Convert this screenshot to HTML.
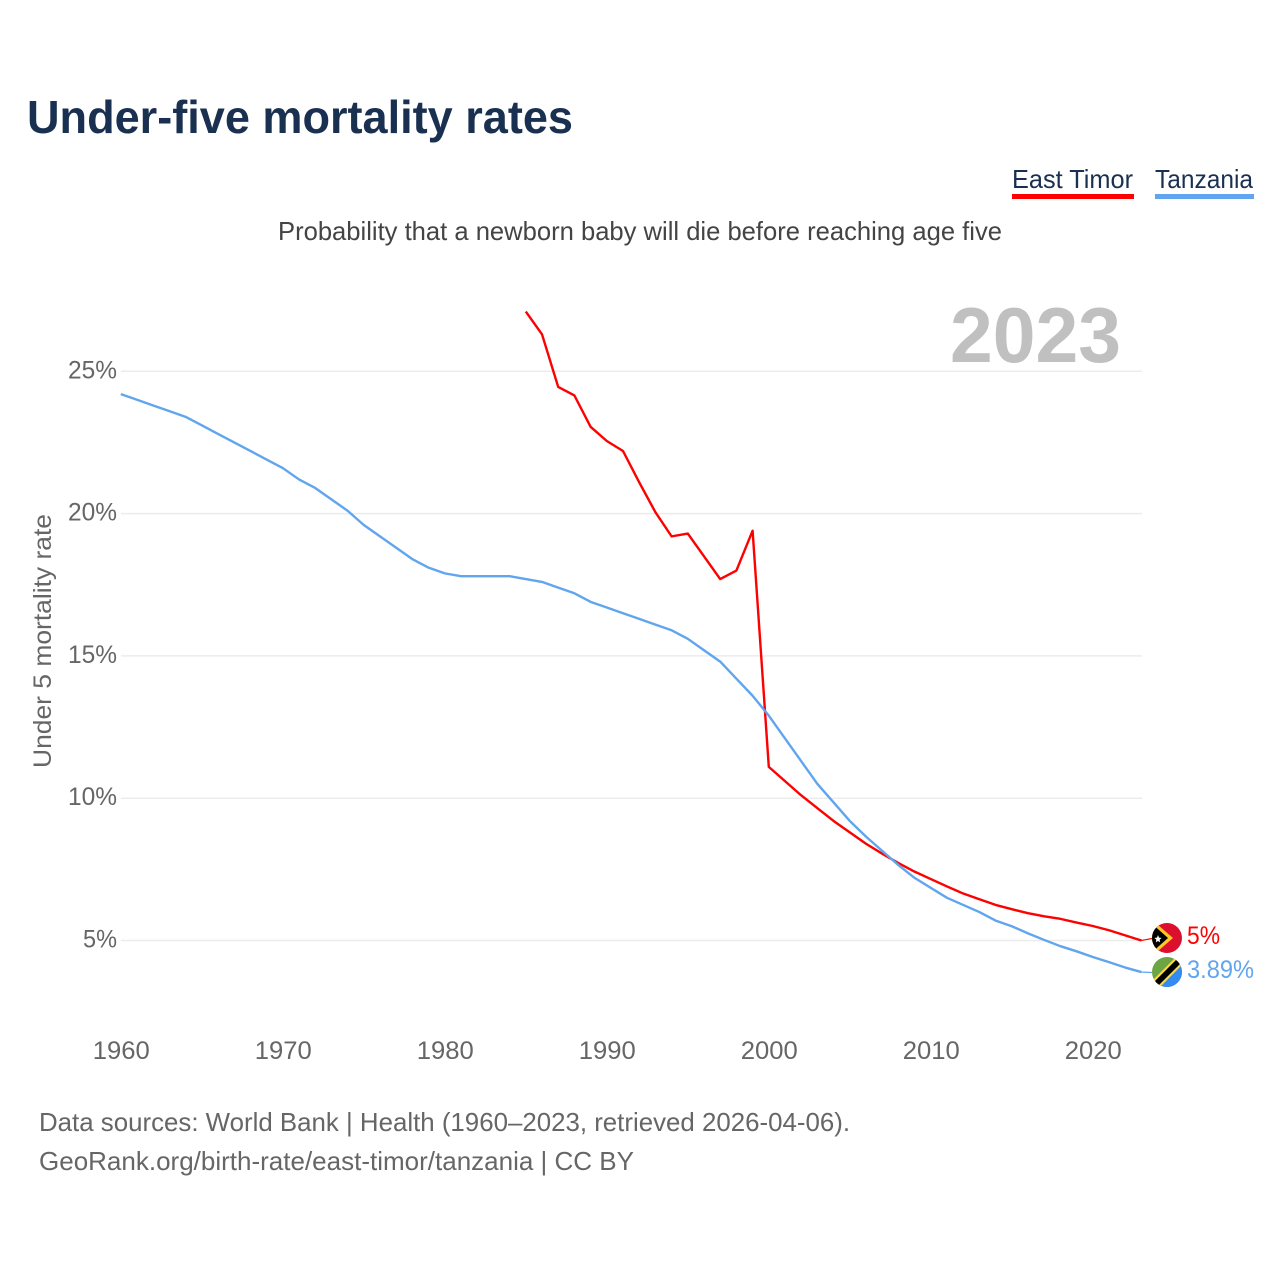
<!DOCTYPE html>
<html lang="en">
<head>
<meta charset="utf-8">
<title>Under-five mortality rates</title>
<style>
html,body{margin:0;padding:0;background:#fff;}
svg{display:block;font-family:"Liberation Sans",sans-serif;}
</style>
</head>
<body>
<svg id="chart" width="1280" height="1280" viewBox="0 0 1280 1280" xmlns="http://www.w3.org/2000/svg">
  <defs>
    <clipPath id="clip-tl"><circle cx="1167" cy="938" r="15"/></clipPath>
    <clipPath id="clip-tz"><circle cx="1167" cy="972" r="15"/></clipPath>
  </defs>
  <rect width="1280" height="1280" fill="#fff"/>
  <text x="27" y="133" font-size="46" font-weight="700" fill="#1a3050" textLength="546" lengthAdjust="spacingAndGlyphs">Under-five mortality rates</text>
  <g>
    <g>
      <text x="1012" y="188" font-size="26" fill="#1a3050" textLength="121" lengthAdjust="spacingAndGlyphs">East Timor</text>
      <rect x="1012" y="194" width="122" height="5" fill="#ff0000"/>
    </g>
    <g>
      <text x="1155" y="188" font-size="26" fill="#1a3050" textLength="98" lengthAdjust="spacingAndGlyphs">Tanzania</text>
      <rect x="1155" y="194" width="99" height="5" fill="#60a5ee"/>
    </g>
  </g>
  <text x="278" y="240" font-size="26" fill="#444" textLength="724" lengthAdjust="spacingAndGlyphs">Probability that a newborn baby will die before reaching age five</text>
  <text x="950" y="362" font-size="78" font-weight="700" fill="#c0c0c0" textLength="171" lengthAdjust="spacingAndGlyphs">2023</text>
  <text transform="translate(51,768) rotate(-90)" x="0" y="0" font-size="25" fill="#666" textLength="254" lengthAdjust="spacingAndGlyphs">Under 5 mortality rate</text>
  <g id="grid"></g>
  <g id="yticks"></g>
  <g id="xticks"></g>
  <g id="series"></g>

  <g clip-path="url(#clip-tl)">
    <rect x="1152" y="923" width="30" height="30" fill="#dc0f2f"/>
    <polygon points="1150,918 1173,938 1150,958" fill="#ffc726"/>
    <polygon points="1150,922 1168,938 1150,954" fill="#000"/>
    <polygon points="1158,935 1159,937.6 1161.6,938 1159.6,939.8 1160.2,942.4 1158,941 1155.8,942.4 1156.4,939.8 1154.4,938 1157,937.6" fill="#fff"/>
  </g>
  <g clip-path="url(#clip-tz)">
    <rect x="1152" y="957" width="30" height="30" fill="#6da544"/>
    <polygon points="1182,957 1182,987 1152,987" fill="#338af3"/>
    <polygon points="1152,981 1152,987 1160,987 1182,965 1182,957 1176,957" fill="#ffda44"/>
    <polygon points="1152,984 1155,987 1157,987 1182,962 1182,957 1179,957" fill="#000"/>
  </g>
  <text x="1187" y="944" font-size="25" fill="#ff0000" textLength="33" lengthAdjust="spacingAndGlyphs">5%</text>
  <text x="1187" y="978" font-size="25" fill="#60a5ee" textLength="67" lengthAdjust="spacingAndGlyphs">3.89%</text>

  <text x="39" y="1131" font-size="26" fill="#666" textLength="811" lengthAdjust="spacingAndGlyphs">Data sources: World Bank | Health (1960–2023, retrieved 2026-04-06).</text>
  <text x="39" y="1170" font-size="26" fill="#666" textLength="595" lengthAdjust="spacingAndGlyphs">GeoRank.org/birth-rate/east-timor/tanzania | CC BY</text>
</svg>
<script>
const tanzaniaStartYear = 1960;
const tanzaniaValues = [24.2,24.0,23.8,23.6,23.4,23.1,22.8,22.5,22.2,21.9,21.6,21.2,20.9,20.5,20.1,19.6,19.2,18.8,18.4,18.1,17.9,17.8,17.8,17.8,17.8,17.7,17.6,17.4,17.2,16.9,16.7,16.5,16.3,16.1,15.9,15.6,15.2,14.8,14.2,13.6,12.9,12.1,11.3,10.5,9.85,9.2,8.65,8.15,7.65,7.2,6.85,6.5,6.25,6.0,5.7,5.5,5.25,5.02,4.8,4.62,4.42,4.24,4.05,3.89];
const eastTimorStartYear = 1985;
const eastTimorValues = [27.1,26.3,24.45,24.15,23.05,22.55,22.2,21.1,20.05,19.2,19.3,18.5,17.7,18.0,19.4,11.1,10.6,10.1,9.65,9.2,8.8,8.4,8.05,7.72,7.42,7.16,6.9,6.65,6.45,6.25,6.1,5.96,5.85,5.76,5.63,5.51,5.36,5.18,5.0];
const yTickValues = [5,10,15,20,25];
const yTickWidths = {5:34,10:49,15:49,20:49,25:49};
const xTickYears = [1960,1970,1980,1990,2000,2010,2020];

const NS = 'http://www.w3.org/2000/svg';
function xScale(year){ return 120.8 + (year - 1960) * 16.2; }
function yScale(v){ return 940.5 - (v - 5) * 28.46; }

const grid = document.getElementById('grid');
const yticks = document.getElementById('yticks');
const xticks = document.getElementById('xticks');
const series = document.getElementById('series');

yTickValues.forEach(function(v){
  const ln = document.createElementNS(NS,'line');
  
  
  ln.setAttribute('x1', 121);
  ln.setAttribute('x2', 1142);
  ln.setAttribute('y1', yScale(v));
  ln.setAttribute('y2', yScale(v));
  ln.setAttribute('stroke', '#ececec');
  ln.setAttribute('stroke-width', '1.5');
  grid.appendChild(ln);
  const t = document.createElementNS(NS,'text');
  
  
  t.setAttribute('x', 117 - yTickWidths[v]);
  t.setAttribute('y', yScale(v) + 7);
  t.setAttribute('font-size', '25');
  t.setAttribute('fill', '#666');
  t.setAttribute('textLength', yTickWidths[v]);
  t.setAttribute('lengthAdjust', 'spacingAndGlyphs');
  t.textContent = v + '%';
  yticks.appendChild(t);
});

xTickYears.forEach(function(y){
  const t = document.createElementNS(NS,'text');
  
  
  t.setAttribute('x', xScale(y) - 28);
  t.setAttribute('y', 1059);
  t.setAttribute('font-size', '25');
  t.setAttribute('fill', '#666');
  t.setAttribute('textLength', 57);
  t.setAttribute('lengthAdjust', 'spacingAndGlyphs');
  t.textContent = String(y);
  xticks.appendChild(t);
});

function linePoints(startYear, values){
  return values.map(function(v,i){
    return xScale(startYear + i).toFixed(2) + ',' + yScale(v).toFixed(2);
  }).join(' ');
}

const lineTz = document.createElementNS(NS,'polyline');


lineTz.setAttribute('points', linePoints(tanzaniaStartYear, tanzaniaValues));
lineTz.setAttribute('fill', 'none');
lineTz.setAttribute('stroke', '#60a5ee');
lineTz.setAttribute('stroke-width', '2.4');
lineTz.setAttribute('stroke-linejoin', 'round');

const lineTl = document.createElementNS(NS,'polyline');


lineTl.setAttribute('points', linePoints(eastTimorStartYear, eastTimorValues));
lineTl.setAttribute('fill', 'none');
lineTl.setAttribute('stroke', '#ff0000');
lineTl.setAttribute('stroke-width', '2.4');
lineTl.setAttribute('stroke-linejoin', 'round');

series.appendChild(lineTl);
series.appendChild(lineTz);

function connector(name, color, v, toY){
  const c = document.createElementNS(NS,'line');
  
  
  c.setAttribute('x1', xScale(2023));
  c.setAttribute('y1', yScale(v));
  c.setAttribute('x2', 1152);
  c.setAttribute('y2', toY);
  c.setAttribute('stroke', color);
  c.setAttribute('stroke-width', '1.2');
  series.appendChild(c);
}
connector('connector-east-timor', '#ff0000', eastTimorValues[eastTimorValues.length - 1], 938.5);
connector('connector-tanzania', '#60a5ee', tanzaniaValues[tanzaniaValues.length - 1], 972.5);
</script>
</body>
</html>
